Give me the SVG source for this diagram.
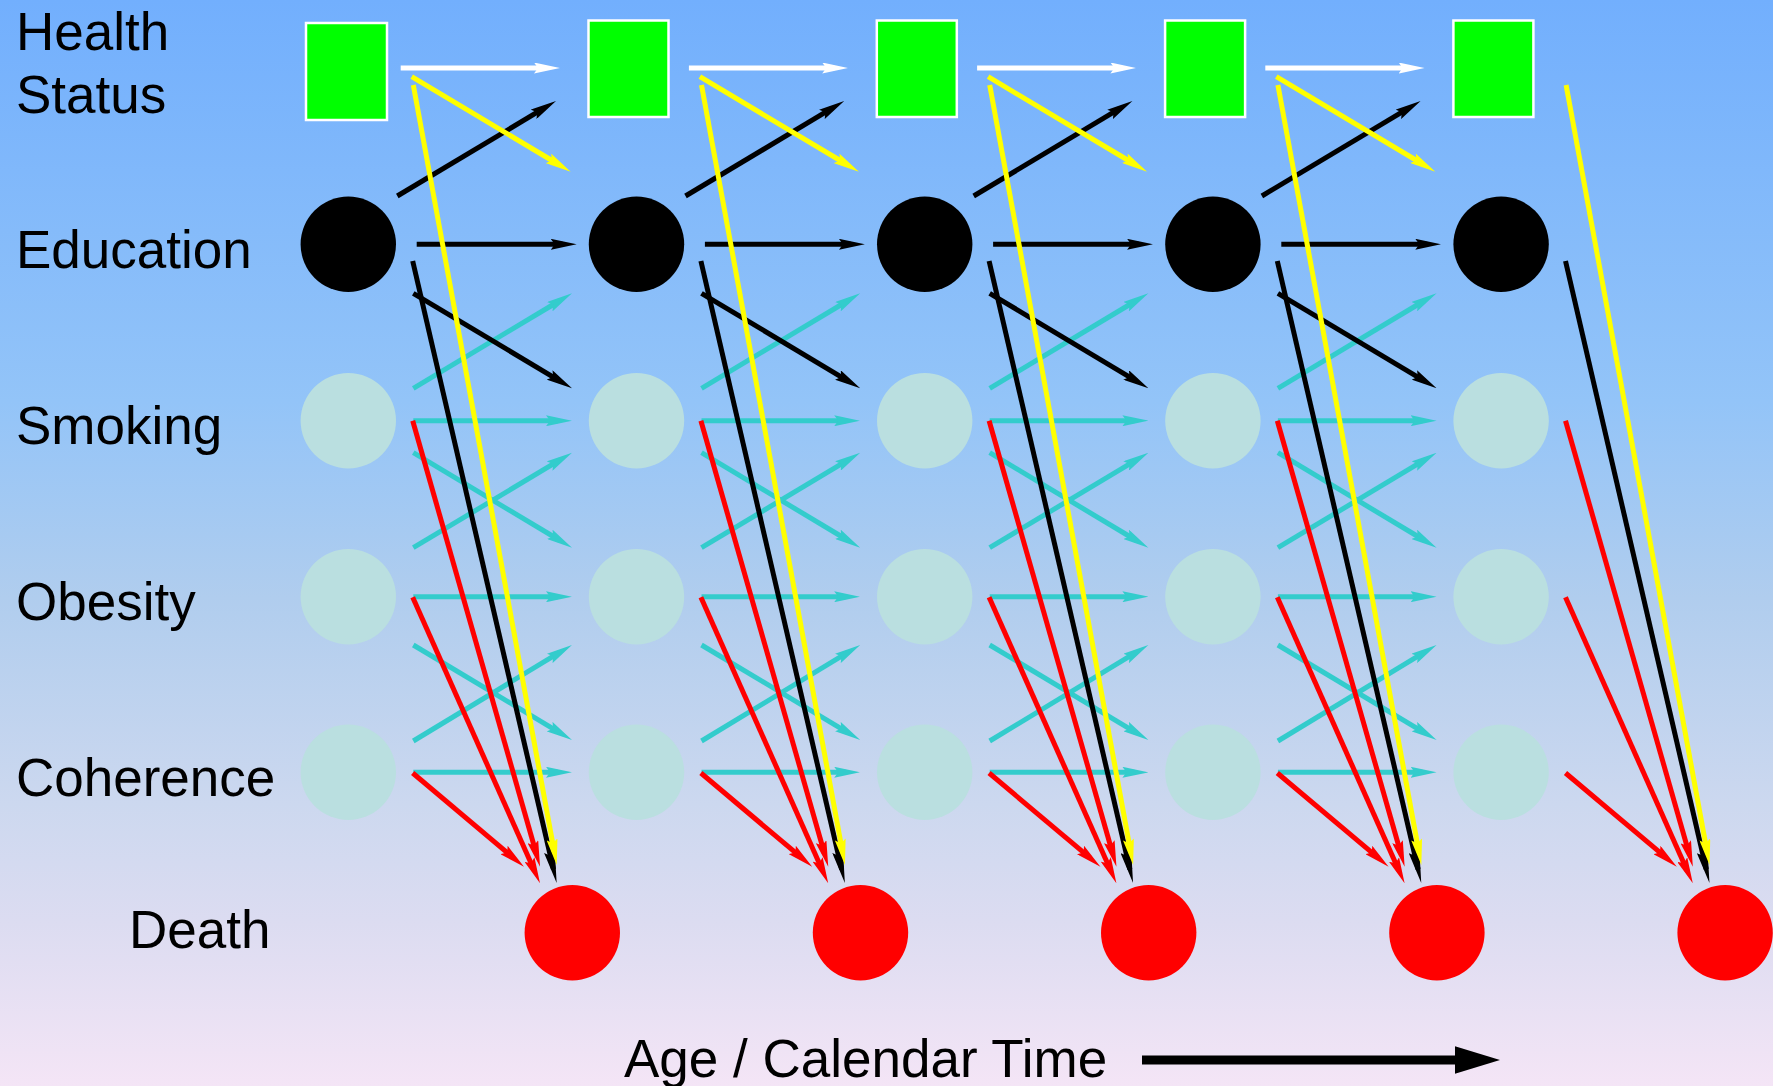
<svg xmlns="http://www.w3.org/2000/svg" width="1773" height="1086" viewBox="0 0 1773 1086">
<defs>
<linearGradient id="bg" x1="0" y1="0" x2="0" y2="1">
<stop offset="0" stop-color="#72affd"/>
<stop offset="0.37" stop-color="#93c4f8"/>
<stop offset="0.55" stop-color="#b0cdee"/>
<stop offset="0.74" stop-color="#ccd8ef"/>
<stop offset="0.85" stop-color="#dcdcf1"/>
<stop offset="1" stop-color="#f4e5f6"/>
</linearGradient>
<marker id="mW" markerUnits="userSpaceOnUse" orient="auto" markerWidth="26" markerHeight="11" viewBox="0 0 26 11" refX="12" refY="5.5"><path d="M0,0 L26,5.5 L0,11 L4,5.5 z" fill="#ffffff"/></marker>
<marker id="mY" markerUnits="userSpaceOnUse" orient="auto" markerWidth="26" markerHeight="11" viewBox="0 0 26 11" refX="12" refY="5.5"><path d="M0,0 L26,5.5 L0,11 L4,5.5 z" fill="#ffff00"/></marker>
<marker id="mK" markerUnits="userSpaceOnUse" orient="auto" markerWidth="26" markerHeight="11" viewBox="0 0 26 11" refX="12" refY="5.5"><path d="M0,0 L26,5.5 L0,11 L4,5.5 z" fill="#000000"/></marker>
<marker id="mKL" markerUnits="userSpaceOnUse" orient="auto" markerWidth="32" markerHeight="11" viewBox="0 0 32 11" refX="18" refY="5.5"><path d="M0,0 L32,5.5 L0,11 L4,5.5 z" fill="#000000"/></marker>
<marker id="mC" markerUnits="userSpaceOnUse" orient="auto" markerWidth="26" markerHeight="11" viewBox="0 0 26 11" refX="12" refY="5.5"><path d="M0,0 L26,5.5 L0,11 L4,5.5 z" fill="#33cccc"/></marker>
<marker id="mR" markerUnits="userSpaceOnUse" orient="auto" markerWidth="26" markerHeight="11" viewBox="0 0 26 11" refX="12" refY="5.5"><path d="M0,0 L26,5.5 L0,11 L4,5.5 z" fill="#ff0000"/></marker>
</defs>
<style>
text { font-family: "Liberation Sans", Arial, sans-serif; font-size: 53px; fill: #000000; }
.hs { fill: #00ff00; stroke: #ffffff; stroke-width: 2.5; }
.ed { fill: #000000; }
.rf { fill: #badfe0; }
.de { fill: #ff0000; }
line { stroke-width: 5; fill: none; }
.w { stroke: #ffffff; marker-end: url(#mW); }
.y { stroke: #ffff00; marker-end: url(#mY); }
.k { stroke: #000000; marker-end: url(#mK); }
.kl { stroke: #000000; marker-end: url(#mKL); }
.c { stroke: #33cccc; marker-end: url(#mC); }
.r { stroke: #ff0000; marker-end: url(#mR); }
</style>
<rect x="0" y="0" width="1773" height="1086" fill="url(#bg)"/>

<g id="labels">
<text x="16" y="50">Health</text>
<text x="16" y="113">Status</text>
<text x="16" y="268">Education</text>
<text x="16" y="444">Smoking</text>
<text x="16" y="620">Obesity</text>
<text x="16" y="796">Coherence</text>
<text x="129" y="948">Death</text>
<text x="624" y="1077">Age / Calendar Time</text>
</g>

<g id="time-axis">
<line x1="1142" y1="1060" x2="1456" y2="1060" style="stroke:#000;stroke-width:9"/>
<polygon points="1455,1046.3 1500,1060 1455,1073.7" fill="#000"/>
</g>

<g id="health-0"><rect class="hs" x="306" y="23" width="81" height="97"/></g>
<g id="health-1"><rect class="hs" x="588.5" y="20.5" width="80" height="96.5"/></g>
<g id="health-2"><rect class="hs" x="876.8" y="20.5" width="80" height="96.5"/></g>
<g id="health-3"><rect class="hs" x="1165.1" y="20.5" width="80" height="96.5"/></g>
<g id="health-4"><rect class="hs" x="1453.4" y="20.5" width="80" height="96.5"/></g>

<g id="education-0"><circle class="ed" cx="348.3" cy="244.3" r="47.7"/></g>
<g id="education-1"><circle class="ed" cx="636.5" cy="244.3" r="47.7"/></g>
<g id="education-2"><circle class="ed" cx="924.7" cy="244.3" r="47.7"/></g>
<g id="education-3"><circle class="ed" cx="1212.9" cy="244.3" r="47.7"/></g>
<g id="education-4"><circle class="ed" cx="1501.1" cy="244.3" r="47.7"/></g>

<g id="smoking-0"><circle class="rf" cx="348.3" cy="420.7" r="47.7"/></g>
<g id="smoking-1"><circle class="rf" cx="636.5" cy="420.7" r="47.7"/></g>
<g id="smoking-2"><circle class="rf" cx="924.7" cy="420.7" r="47.7"/></g>
<g id="smoking-3"><circle class="rf" cx="1212.9" cy="420.7" r="47.7"/></g>
<g id="smoking-4"><circle class="rf" cx="1501.1" cy="420.7" r="47.7"/></g>

<g id="obesity-0"><circle class="rf" cx="348.3" cy="596.7" r="47.7"/></g>
<g id="obesity-1"><circle class="rf" cx="636.5" cy="596.7" r="47.7"/></g>
<g id="obesity-2"><circle class="rf" cx="924.7" cy="596.7" r="47.7"/></g>
<g id="obesity-3"><circle class="rf" cx="1212.9" cy="596.7" r="47.7"/></g>
<g id="obesity-4"><circle class="rf" cx="1501.1" cy="596.7" r="47.7"/></g>

<g id="coherence-0"><circle class="rf" cx="348.3" cy="772.3" r="47.7"/></g>
<g id="coherence-1"><circle class="rf" cx="636.5" cy="772.3" r="47.7"/></g>
<g id="coherence-2"><circle class="rf" cx="924.7" cy="772.3" r="47.7"/></g>
<g id="coherence-3"><circle class="rf" cx="1212.9" cy="772.3" r="47.7"/></g>
<g id="coherence-4"><circle class="rf" cx="1501.1" cy="772.3" r="47.7"/></g>

<g id="death-0"><circle class="de" cx="572.3" cy="932.7" r="47.7"/></g>
<g id="death-1"><circle class="de" cx="860.5" cy="932.7" r="47.7"/></g>
<g id="death-2"><circle class="de" cx="1148.7" cy="932.7" r="47.7"/></g>
<g id="death-3"><circle class="de" cx="1436.9" cy="932.7" r="47.7"/></g>
<g id="death-4"><circle class="de" cx="1725.1" cy="932.7" r="47.7"/></g>

<g id="connectors">
<defs>
<g id="col-full">
<line class="c" x1="413.3" y1="388.3" x2="560" y2="300.5"/>
<line class="c" x1="413.3" y1="420.7" x2="558" y2="420.7"/>
<line class="c" x1="413.3" y1="452.7" x2="560" y2="540.5"/>
<line class="c" x1="413.3" y1="547.7" x2="560" y2="459.9"/>
<line class="c" x1="413.3" y1="596.7" x2="558" y2="596.7"/>
<line class="c" x1="413.3" y1="645" x2="560" y2="732.8"/>
<line class="c" x1="413.3" y1="741" x2="560" y2="652.2"/>
<line class="c" x1="413.3" y1="772.3" x2="558" y2="772.3"/>
<line class="w" x1="400.7" y1="68" x2="546" y2="68"/>
<line class="k" x1="397.3" y1="196" x2="544" y2="108.2"/>
<line class="y" x1="411.7" y1="76.7" x2="558.7" y2="164.5"/>
<line class="k" x1="416.7" y1="244.3" x2="562.7" y2="244.3"/>
<line class="k" x1="413.3" y1="293.3" x2="560" y2="381.1"/>
</g>
<g id="col-death">
<line class="r" x1="412.7" y1="420.7" x2="536.2" y2="853.2"/>
<line class="r" x1="412.7" y1="597.3" x2="534.3" y2="870.5"/>
<line class="r" x1="412.7" y1="773" x2="513.3" y2="857.7"/>
<line class="kl" x1="412.7" y1="261" x2="553.5" y2="869.4"/>
<line class="y" x1="413.3" y1="85" x2="554.2" y2="851.2"/>
</g>
</defs>
<g id="conn-0"><use href="#col-full"/><use href="#col-death"/></g>
<g id="conn-1" transform="translate(288.2,0)"><use href="#col-full"/><use href="#col-death"/></g>
<g id="conn-2" transform="translate(576.4,0)"><use href="#col-full"/><use href="#col-death"/></g>
<g id="conn-3" transform="translate(864.6,0)"><use href="#col-full"/><use href="#col-death"/></g>
<g id="conn-4" transform="translate(1152.8,0)"><use href="#col-death"/></g>
</g>
</svg>
